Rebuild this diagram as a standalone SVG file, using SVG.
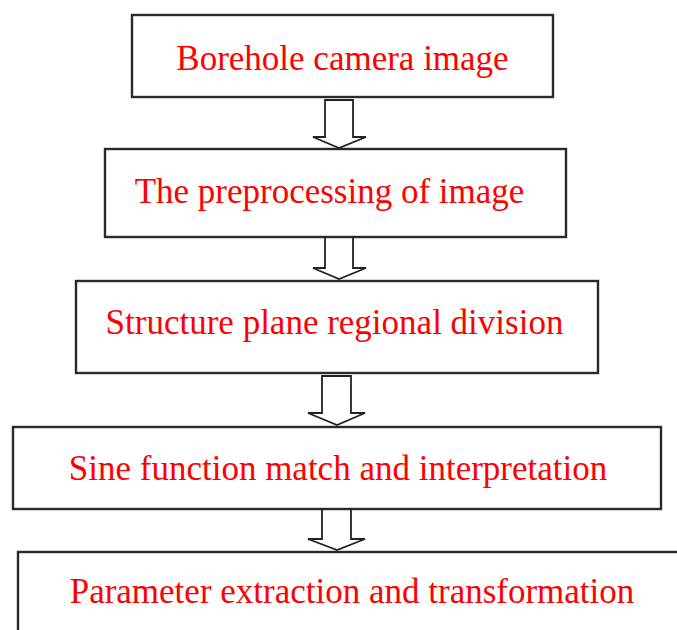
<svg xmlns="http://www.w3.org/2000/svg" width="677" height="630" viewBox="0 0 677 630">
<style>
.box{fill:#fff;stroke:#2a2a2a;stroke-width:2.4}
.lbl{font-family:"Liberation Serif","Times New Roman",serif;font-size:35px;fill:#ff0000;text-anchor:middle}
.arr{fill:#fff;stroke:#222;stroke-width:1.8;stroke-linejoin:miter}
</style>
<rect width="677" height="630" fill="#fff"/>
<g id="connectors">
<polygon class="arr" points="325,100 325,137 313,137 339,148 366,137 353,137 353,100"/>
<polygon class="arr" points="325,237 325,268 313,268 339,279 366,268 353,268 353,237"/>
<polygon class="arr" points="322,376 322,413 308,413 337,425 365,413 351,413 351,376"/>
<polygon class="arr" points="322,509 322,539 308,539 337,550 365,539 351,539 351,509"/>
</g>
<g id="n1"><rect class="box" x="132" y="15" width="421" height="82"/><text class="lbl" x="342.5" y="70">Borehole camera image</text></g>
<g id="n2"><rect class="box" x="105" y="149" width="461" height="88"/><text class="lbl" x="329.5" y="203">The preprocessing of image</text></g>
<g id="n3"><rect class="box" x="76" y="281" width="522" height="92"/><text class="lbl" x="334.5" y="334">Structure plane regional division</text></g>
<g id="n4"><rect class="box" x="13" y="427" width="648" height="82"/><text class="lbl" x="338" y="480">Sine function match and interpretation</text></g>
<g id="n5"><rect class="box" x="18" y="552" width="680" height="100"/><text class="lbl" x="352" y="603">Parameter extraction and transformation</text></g>
</svg>
